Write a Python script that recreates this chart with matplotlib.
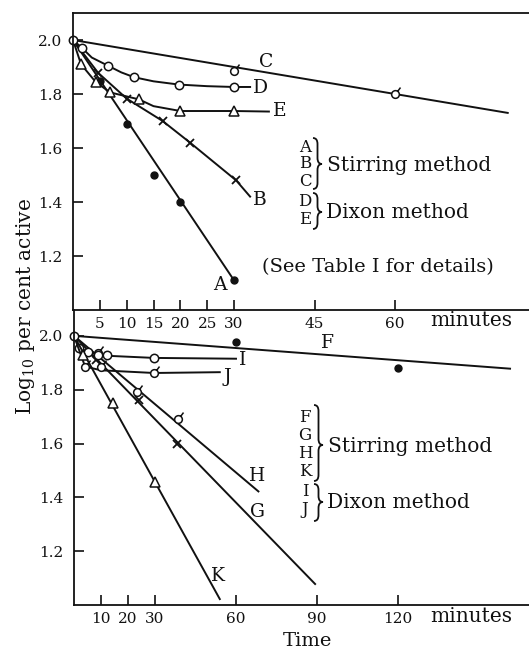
import matplotlib

matplotlib.use("Agg")
import matplotlib.pyplot as plt
from matplotlib.path import Path
from matplotlib.patches import PathPatch

plt.rcParams["font.family"] = ["DejaVu Serif"]
plt.rcParams["mathtext.fontset"] = "dejavuserif"

W, H = 529, 650

# ---- upper panel: A-E (time in minutes, log10 per cent active) ----
a_t = [0, 5, 10, 15, 20, 30]
a_y = [2.0, 1.85, 1.69, 1.50, 1.40, 1.11]
a_line_t = [0, 30]
a_line_y = [2.0, 1.11]

b_t = [0, 4.7, 10, 16.7, 21.8, 30.4]
b_y = [2.0, 1.878, 1.783, 1.70, 1.62, 1.48]
b_line_t = [0, 4.7, 10, 16.7, 21.8, 30.4, 33]
b_line_y = [2.0, 1.878, 1.783, 1.70, 1.62, 1.48, 1.42]

c_t = [0, 30, 60]
c_y = [2.0, 1.885, 1.80]
c_line_t = [0, 81]
c_line_y = [2.0, 1.73]

d_t = [0, 1.7, 6.5, 11.4, 19.7, 30]
d_y = [2.0, 1.97, 1.905, 1.862, 1.835, 1.826]
d_line_t = [0, 1.7, 3.5, 6.5, 9, 11.4, 15, 19.7, 25, 30, 33]
d_line_y = [2.0, 1.97, 1.935, 1.905, 1.88, 1.862, 1.847, 1.835, 1.829, 1.826, 1.826]

e_t = [0, 1.5, 4.2, 6.9, 12.3, 20, 30]
e_y = [2.0, 1.91, 1.845, 1.806, 1.78, 1.737, 1.737]
e_line_t = [0, 1.5, 4.2, 6.9, 12.3, 15, 20, 30, 36.5]
e_line_y = [2.0, 1.91, 1.845, 1.806, 1.78, 1.755, 1.737, 1.737, 1.735]

# ---- lower panel: F-K ----
f_t = [0, 60, 120]
f_y = [2.0, 1.978, 1.88]
f_line_t = [0, 161.5]
f_line_y = [2.0, 1.878]

g_t = [0, 8, 24, 38]
g_y = [2.0, 1.91, 1.763, 1.60]
g_line_t = [0, 89.3]
g_line_y = [2.0, 1.078]

h_t = [0, 9, 23.5, 38.6]
h_y = [2.0, 1.935, 1.79, 1.69]
h_line_t = [0, 68.3]
h_line_y = [2.0, 1.422]

i_t = [0, 1.9, 5.2, 8.9, 12.2, 29.6]
i_y = [2.0, 1.956, 1.94, 1.93, 1.93, 1.918]
i_line_t = [0, 1.9, 5.2, 8.9, 12.2, 29.6, 60]
i_line_y = [2.0, 1.956, 1.94, 1.93, 1.926, 1.918, 1.915]

j_t = [0, 4.1, 10, 29.6]
j_y = [2.0, 1.886, 1.886, 1.862]
j_line_t = [0, 4.1, 10, 29.6, 54]
j_line_y = [2.0, 1.886, 1.872, 1.862, 1.865]

k_t = [0, 3.3, 14.6, 30]
k_y = [2.0, 1.93, 1.752, 1.456]
k_line_t = [0, 54]
k_line_y = [2.0, 1.022]

top_xticks = [5, 10, 15, 20, 25, 30, 45, 60]
bot_xticks = [10, 20, 30, 60, 90, 120]
yticks = [1.2, 1.4, 1.6, 1.8, 2.0]


def px(x, y):
    return x / W, 1 - y / H


# circle with a small tail, like the hand-drawn "ɗ" symbols
tailed = Path.make_compound_path(
    Path.unit_circle(),
    Path([[0.55, 0.8], [1.3, 1.8]], [Path.MOVETO, Path.LINETO]),
)

LW = 1.4
MS = 5
TMS = 10  # tailed marker is normalised to its tail, so needs a bigger size
ink = "#111111"

fig = plt.figure(figsize=(W / 100, H / 100), dpi=100)
ax1 = fig.add_axes([73 / W, 1 - 310 / H, (W - 73) / W, (310 - 13) / H])
ax2 = fig.add_axes([74 / W, 1 - 605 / H, (W - 74) / W, (605 - 310) / H])
ax2.set_zorder(0)
ax1.set_zorder(1)

for ax in (ax1, ax2):
    ax.set_facecolor("none")
    ax.spines["right"].set_visible(False)
    for s in ax.spines.values():
        s.set_linewidth(1.3)
        s.set_color(ink)
    ax.set_yticks(yticks)
    ax.set_yticklabels([f"{v:.1f}" for v in yticks])
    ax.tick_params(direction="in", length=7, width=1.2, labelsize=11, pad=5, colors=ink)
    ax.tick_params(axis="y", pad=8)
ax2.spines["top"].set_visible(False)

ax1.set_xlim(0, (W - 73) / 5.367)
ax1.set_ylim(1.0, 2.1)
ax1.set_xticks(top_xticks)
ax1.set_xticklabels([str(v) for v in top_xticks])

ax2.set_xlim(0, (W - 74) / 2.7)
ax2.set_ylim(1.0, 2.096)
ax2.set_xticks(bot_xticks)
ax2.set_xticklabels([str(v) for v in bot_xticks])

kw = dict(color=ink, lw=LW, clip_on=False)
open_kw = dict(mfc="white", mec=ink, mew=1.1, clip_on=False)

# upper curves
ax1.plot(a_line_t, a_line_y, **kw)
ax1.plot(a_t, a_y, "o", ms=MS, color=ink, clip_on=False)
ax1.plot(b_line_t, b_line_y, **kw)
ax1.plot(b_t[1:], b_y[1:], "x", ms=MS + 1, mew=1.3, color=ink)
ax1.plot(c_line_t, c_line_y, **kw)
ax1.plot(c_t[1:], c_y[1:], ls="none", marker=tailed, ms=TMS, **open_kw)
ax1.plot(d_line_t, d_line_y, **kw)
ax1.plot(d_t[1:], d_y[1:], "o", ms=MS + 1, **open_kw)
ax1.plot(e_line_t, e_line_y, **kw)
ax1.plot(e_t[1:], e_y[1:], "^", ms=MS + 2, **open_kw)
ax1.plot([0], [2.0], "o", ms=MS + 1, **open_kw)

# lower curves
ax2.plot(f_line_t, f_line_y, **kw)
ax2.plot(f_t[1:], f_y[1:], "o", ms=MS, color=ink)
ax2.plot(g_line_t, g_line_y, **kw)
ax2.plot(g_t[1:], g_y[1:], "x", ms=MS + 1, mew=1.3, color=ink)
ax2.plot(h_line_t, h_line_y, **kw)
ax2.plot(h_t[1:], h_y[1:], ls="none", marker=tailed, ms=TMS, **open_kw)
ax2.plot(i_line_t, i_line_y, **kw)
ax2.plot(i_t[1:], i_y[1:], "o", ms=MS + 1, **open_kw)
ax2.plot(j_line_t, j_line_y, **kw)
ax2.plot(j_t[1:], j_y[1:], ls="none", marker=tailed, ms=TMS, **open_kw)
ax2.plot(k_line_t, k_line_y, **kw)
ax2.plot(k_t[1:], k_y[1:], "^", ms=MS + 2, **open_kw)
ax2.plot([0], [2.0], "o", ms=MS + 1, **open_kw)

# curve letters
lab = dict(fontsize=13.5, ha="center", va="center", color=ink)
ax1.text(27.4, 1.093, "A", **lab)
ax1.text(34.8, 1.407, "B", **lab)
ax1.text(36.0, 1.92, "C", **lab)
ax1.text(34.9, 1.822, "D", **lab)
ax1.text(38.5, 1.738, "E", **lab)
ax2.text(94, 1.974, "F", **lab)
ax2.text(62.5, 1.911, "I", **lab)
ax2.text(56.8, 1.848, "J", **lab)
ax2.text(67.8, 1.478, "H", **lab)
ax2.text(67.8, 1.344, "G", **lab)
ax2.text(53.3, 1.107, "K", **lab)


def brace(x, ytop, ybot, ytip, w=9, r=6):
    xm = x + w / 2
    verts = [
        (x, ytop), (xm, ytop), (xm, ytop + r),
        (xm, ytip - r), (xm, ytip), (x + w, ytip),
        (xm, ytip), (xm, ytip + r),
        (xm, ybot - r), (xm, ybot), (x, ybot),
    ]
    codes = [
        Path.MOVETO, Path.CURVE3, Path.CURVE3,
        Path.LINETO, Path.CURVE3, Path.CURVE3,
        Path.CURVE3, Path.CURVE3,
        Path.LINETO, Path.CURVE3, Path.CURVE3,
    ]
    path = Path([px(vx, vy) for vx, vy in verts], codes)
    fig.patches.append(PathPatch(path, transform=fig.transFigure, fill=False,
                                 lw=1.3, edgecolor=ink))


leg = dict(fontsize=12, ha="center", va="center", color=ink)
txt = dict(fontsize=14.5, ha="left", va="center", color=ink)

for letter, y in zip("ABC", [147, 164, 182]):
    fig.text(*px(305, y), letter, **leg)
brace(313, 138, 189, 164)
fig.text(*px(327, 166), "Stirring method", **txt)
for letter, y in zip("DE", [202, 219]):
    fig.text(*px(305, y), letter, **leg)
brace(313, 193, 229, 212)
fig.text(*px(326, 212), "Dixon method", **txt)
fig.text(*px(262, 267), "(See Table I for details)", fontsize=14, ha="left",
         va="center", color=ink)

for letter, y in zip("FGHK", [418, 436, 454, 472]):
    fig.text(*px(305, y), letter, **leg)
brace(314, 405, 481, 445)
fig.text(*px(328, 447), "Stirring method", **txt)
for letter, y in zip("IJ", [492, 510]):
    fig.text(*px(305, y), letter, **leg)
brace(314, 484, 521, 502)
fig.text(*px(327, 502), "Dixon method", **txt)

fig.text(*px(430, 321), "minutes", **txt)
fig.text(*px(430, 617), "minutes", **txt)
fig.text(*px(307, 641), "Time", fontsize=14, ha="center", va="center", color=ink)
fig.text(*px(26, 307), r"Log$_{10}$ per cent active", fontsize=14.5, rotation=90,
         ha="center", va="center", color=ink)

fig.savefig("out.png", dpi=100)
